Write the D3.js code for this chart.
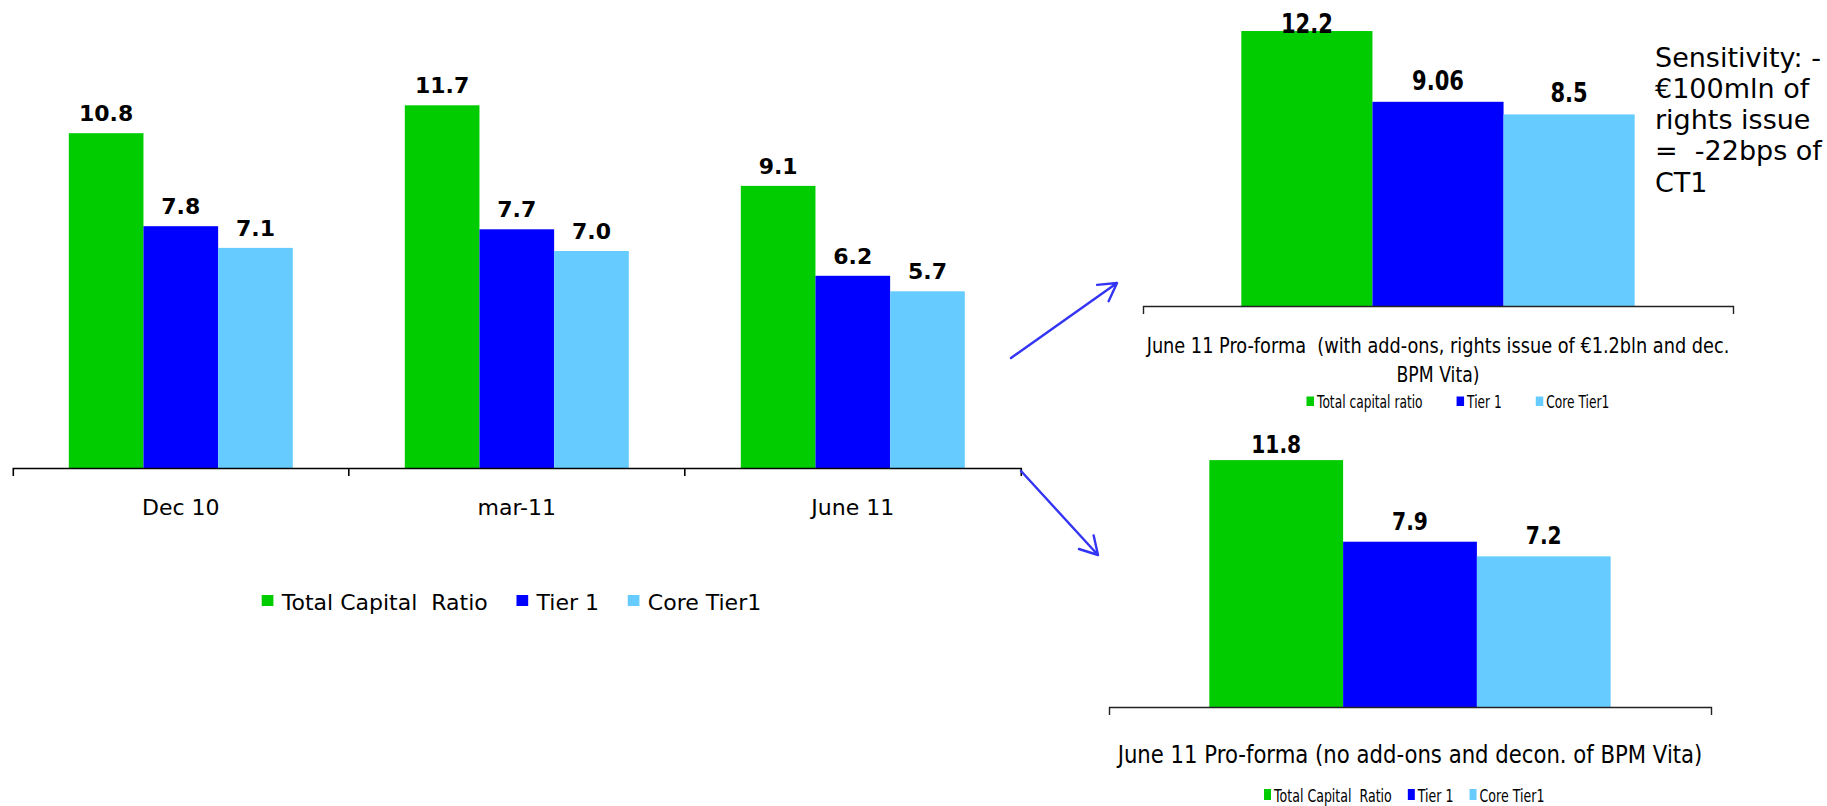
<!DOCTYPE html>
<html>
<head>
<meta charset="utf-8">
<script src="https://cdn.jsdelivr.net/npm/d3@7"></script>
<style>
  html, body { margin: 0; padding: 0; background: #fff; }
  svg { display: block; font-family: "DejaVu Sans", Verdana, sans-serif; }
  text { white-space: pre; fill: #000; }
</style>
</head>
<body>
<svg id="chart" width="1827" height="806"></svg>
<script>
// ---- data ----
const series = ["Total Capital Ratio", "Tier 1", "Core Tier1"];
const seriesColors = ["#00cc00", "#0000ff", "#66ccff"];

// historical capital ratios (%)
const periods = ["Dec 10", "mar-11", "June 11"];
const totalCapitalRatio = [10.8, 11.7, 9.1];
const tier1Ratio = [7.8, 7.7, 6.2];
const coreTier1Ratio = [7.1, 7.0, 5.7];

// pro-forma with add-ons, rights issue and deconsolidation
const proFormaAddOnsCat = ["June 11 Pro-forma (with add-ons)"];
const proFormaAddOnsTitle = ["June 11 Pro-forma  (with add-ons, rights issue of €1.2bln and dec.", "BPM Vita)"];
const proFormaAddOnsValues = [12.2, 9.06, 8.5];
const proFormaAddOnsLegend = ["Total capital ratio", "Tier 1", "Core Tier1"];

// pro-forma without add-ons
const proFormaNoAddOnsCat = ["June 11 Pro-forma (no add-ons)"];
const proFormaNoAddOnsTitle = ["June 11 Pro-forma (no add-ons and decon. of BPM Vita)"];
const proFormaNoAddOnsValues = [11.8, 7.9, 7.2];
const mainLegend = ["Total Capital  Ratio", "Tier 1", "Core Tier1"];

const sensitivityNote = ["Sensitivity: -", "€100mln of", "rights issue", "=  -22bps of", "CT1"];

const svg = d3.select("#chart");

// squeeze a text element horizontally around its anchor point
function placeText(sel, x, y, k) {
  sel.attr("x", 0).attr("y", 0)
     .attr("transform", `translate(${x},${y}) scale(${k},1)`);
}

// centred text squeezed to a given rendered width
function fittedText(str, cx, y, size, width) {
  const t = svg.append("text")
    .attr("text-anchor", "middle")
    .attr("font-size", size)
    .attr("fill", "#111")
    .text(str);
  const k = width / t.node().getComputedTextLength();
  placeText(t, cx, y, k);
  return t;
}

// grouped bar panel: categories on a band scale, series nested inside
function groupedBars(opt) {
  const g = svg.append("g");
  const x0 = d3.scaleBand().domain(opt.cats).range(opt.xRange).padding(0);
  const bw = x0.bandwidth();
  const x1 = d3.scaleBand().domain(series).range([bw / 6, bw * 5 / 6]).padding(0);
  const y = d3.scaleLinear().domain([0, opt.yMax]).range(opt.yRange);
  const top = y(opt.yMax);

  const rows = opt.cats.map((c, i) => ({
    cat: c,
    vals: series.map((s, j) => ({ s, j, v: opt.data[j][i] }))
  }));

  const grp = g.selectAll("g.cat").data(rows).join("g")
    .attr("class", "cat")
    .attr("transform", d => `translate(${x0(d.cat)},0)`);

  grp.selectAll("rect").data(d => d.vals).join("rect")
    .attr("x", d => x1(d.s))
    .attr("y", d => y(d.v))
    .attr("width", x1.bandwidth())
    .attr("height", d => y(0) - y(d.v))
    .attr("fill", d => seriesColors[d.j]);

  const cap = 0.729 * opt.labelSize;
  grp.selectAll("text.val").data(d => d.vals).join("text")
    .attr("class", "val")
    .attr("text-anchor", "middle")
    .attr("font-weight", "bold")
    .attr("font-size", opt.labelSize)
    .text(d => opt.fmt(d.v))
    .each(function (d) {
      const ly = Math.max(y(d.v) - opt.labelGap, top + cap);
      placeText(d3.select(this), x1(d.s) + x1.bandwidth() / 2, ly, opt.labelSquash);
    });

  // axis line with end ticks
  const ax = g.append("g")
    .attr("transform", `translate(0,${y(0)})`)
    .call(d3.axisBottom(x0).tickSize(0).tickSizeOuter(8));
  ax.select(".domain").attr("stroke", opt.axisColor).attr("stroke-width", opt.axisWidth);
  if (opt.showTicks) {
    ax.selectAll("text")
      .attr("y", opt.tickLabelY).attr("dy", 0)
      .attr("font-size", opt.tickSize)
      .attr("font-family", "DejaVu Sans, Verdana, sans-serif")
      .attr("fill", "#000");
  } else {
    ax.selectAll(".tick").remove();
  }
  // boundaries between categories
  ax.selectAll("line.sep").data(opt.cats.slice(1)).join("line")
    .attr("class", "sep")
    .attr("x1", d => x0(d)).attr("x2", d => x0(d))
    .attr("y1", 0).attr("y2", 8)
    .attr("stroke", opt.axisColor).attr("stroke-width", opt.axisWidth);

  return { g, x0, y };
}

// legend laid out left to right from measured text widths
function legend(items, o) {
  const g = svg.append("g");
  let cx = o.x;
  items.forEach((name, i) => {
    g.append("rect")
      .attr("x", cx).attr("y", o.sqY)
      .attr("width", o.sqW).attr("height", o.sqH)
      .attr("fill", seriesColors[i]);
    cx += o.sqW + o.gap;
    const t = g.append("text")
      .attr("font-size", o.size)
      .attr("fill", "#111")
      .text(name);
    placeText(t, cx, o.baseline, o.k);
    cx += t.node().getComputedTextLength() * o.k + o.itemGap;
  });
}

// ---- main chart ----
groupedBars({
  cats: periods,
  data: [totalCapitalRatio, tier1Ratio, coreTier1Ratio],
  xRange: [12.8, 1020.8],
  yRange: [468, 34],
  yMax: 14,
  fmt: d3.format(".1f"),
  labelSize: 22, labelSquash: 1, labelGap: 12,
  showTicks: true, tickLabelY: 47, tickSize: 22,
  axisColor: "#000", axisWidth: 1.6
});
legend(mainLegend, {
  x: 261.7, sqY: 595, sqW: 11.7, sqH: 11, gap: 8.4, itemGap: 28.7,
  baseline: 610, size: 22, k: 1
});

// ---- pro-forma panel with add-ons ----
const pA = groupedBars({
  cats: proFormaAddOnsCat,
  data: proFormaAddOnsValues.map(v => [v]),
  xRange: [1143, 1733],
  yRange: [306, 13],
  yMax: 13,
  fmt: v => String(v),
  labelSize: 27, labelSquash: 0.78, labelGap: 12,
  showTicks: false,
  axisColor: "#222", axisWidth: 1.4
});
const aCx = pA.x0(proFormaAddOnsCat[0]) + pA.x0.bandwidth() / 2;
const titleWidthsA = [583, 83];
proFormaAddOnsTitle.forEach((line, i) => {
  fittedText(line, aCx, 353 + i * 28.7, 21, titleWidthsA[i]);
});
legend(proFormaAddOnsLegend, {
  x: 1306.5, sqY: 396.5, sqW: 7.5, sqH: 9.5, gap: 3, itemGap: 34,
  baseline: 408, size: 17, k: 0.72
});

// ---- pro-forma panel without add-ons ----
const pB = groupedBars({
  cats: proFormaNoAddOnsCat,
  data: proFormaNoAddOnsValues.map(v => [v]),
  xRange: [1109, 1711],
  yRange: [707, 435],
  yMax: 13,
  fmt: v => String(v),
  labelSize: 25, labelSquash: 0.81, labelGap: 12,
  showTicks: false,
  axisColor: "#222", axisWidth: 1.4
});
const bCx = pB.x0(proFormaNoAddOnsCat[0]) + pB.x0.bandwidth() / 2;
fittedText(proFormaNoAddOnsTitle[0], bCx, 763, 25, 585);
legend(mainLegend, {
  x: 1264, sqY: 789, sqW: 7, sqH: 11, gap: 3, itemGap: 16,
  baseline: 801.5, size: 18, k: 0.70
});

// ---- sensitivity note ----
svg.append("g").selectAll("text").data(sensitivityNote).join("text")
  .attr("x", 1655)
  .attr("y", (d, i) => 66.7 + i * 31.25)
  .attr("font-size", 27)
  .attr("fill", "#111")
  .text(d => d);

// ---- connector arrows ----
function arrow(x1, y1, x2, y2) {
  const a = Math.atan2(y2 - y1, x2 - x1);
  const len = 20, spread = Math.PI / 6;
  const p = d3.path();
  p.moveTo(x1, y1); p.lineTo(x2, y2);
  p.moveTo(x2 - len * Math.cos(a - spread), y2 - len * Math.sin(a - spread));
  p.lineTo(x2, y2);
  p.lineTo(x2 - len * Math.cos(a + spread), y2 - len * Math.sin(a + spread));
  svg.append("path").attr("d", p.toString())
    .attr("fill", "none").attr("stroke", "#3434f4")
    .attr("stroke-width", 2.4).attr("stroke-linecap", "round")
    .attr("stroke-linejoin", "round");
}
arrow(1011, 358, 1117, 283);
arrow(1021, 471, 1098, 555);
</script>
</body>
</html>
